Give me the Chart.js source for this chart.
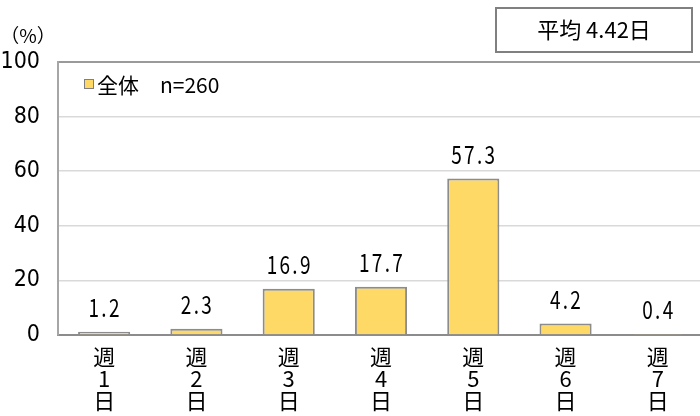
<!DOCTYPE html>
<html>
<head>
<meta charset="utf-8">
<script src="https://cdn.jsdelivr.net/npm/chart.js@4/dist/chart.umd.min.js"></script>
<style>
html,body{margin:0;padding:0;background:#fff;overflow:hidden;}
#wrap{width:710px;height:416px;position:relative;}
</style>
</head>
<body>
<div id="wrap"><canvas id="c" width="710" height="416"></canvas></div>
<script>
const categories = [["週","1","日"],["週","2","日"],["週","3","日"],["週","4","日"],["週","5","日"],["週","6","日"],["週","7","日"]];
const values = [1.2, 2.3, 16.9, 17.7, 57.3, 4.2, 0.4];
const yTicks = [0, 20, 40, 60, 80, 100];
const seriesLabel = "全体\u3000n=260";
const unitLabel = "（%）";
const averageLabel = "平均 4.42日";

function hasFont(name) {
  const cv = document.createElement('canvas').getContext('2d');
  const s = 'mmmmmwwwww0123456789';
  cv.font = '40px monospace'; const a = cv.measureText(s).width;
  cv.font = '40px "' + name + '", monospace'; const b = cv.measureText(s).width;
  cv.font = '40px serif'; const c = cv.measureText(s).width;
  cv.font = '40px "' + name + '", serif'; const d = cv.measureText(s).width;
  return a !== b || c !== d;
}
let narrow = null;
for (const f of ['Liberation Sans Narrow', 'DejaVu Sans Condensed', 'Roboto Condensed', 'Open Sans Condensed']) {
  if (hasFont(f)) { narrow = f; break; }
}
const NUM_FONT = (narrow ? '"' + narrow + '", ' : '') + '"Noto Sans CJK JP", sans-serif';
const JP_FONT = '"Noto Sans CJK JP", sans-serif';
const BAR_FILL = '#FFD966';
const BAR_BORDER = '#8c8c8c';

const overlay = {
  id: 'overlay',
  afterDatasetsDraw(chart) {
    const ctx = chart.ctx;
    const meta = chart.getDatasetMeta(0);
    ctx.save();
    // value labels (condensed rendering)
    ctx.fillStyle = '#000';
    ctx.font = '25px ' + JP_FONT;
    ctx.textAlign = 'center';
    ctx.textBaseline = 'middle';
    try { ctx.letterSpacing = '3px'; } catch(e) {}
    meta.data.forEach((bar, i) => {
      ctx.save();
      ctx.translate(bar.x + 1, bar.y - 24);
      ctx.scale(0.76, 1);
      ctx.fillText(values[i].toFixed(1), 0, 0);
      ctx.restore();
    });
    try { ctx.letterSpacing = '0px'; } catch(e) {}
    // legend
    const ds = chart.data.datasets[0];
    ctx.fillStyle = ds.backgroundColor;
    ctx.strokeStyle = '#7f7f7f';
    ctx.lineWidth = 1;
    ctx.fillRect(84.5, 79.5, 9, 9);
    ctx.strokeRect(84.5, 79.5, 9, 9);
    ctx.fillStyle = '#000';
    ctx.textAlign = 'left';
    ctx.font = '21px ' + JP_FONT;
    ctx.fillText(ds.label, 97, 85);
    // unit
    ctx.font = '19px ' + JP_FONT;
    ctx.textAlign = 'center';
    ctx.fillText(unitLabel, 28, 36);
    // average box
    ctx.strokeStyle = '#808080';
    ctx.lineWidth = 2;
    ctx.strokeRect(496, 8, 196, 44);
    ctx.font = '22px ' + JP_FONT;
    ctx.fillText(averageLabel, 594, 30);
    ctx.restore();
  }
};

new Chart(document.getElementById('c'), {
  type: 'bar',
  data: {
    labels: categories,
    datasets: [{
      label: seriesLabel,
      data: values,
      backgroundColor: BAR_FILL,
      borderColor: BAR_BORDER,
      borderWidth: 2,
      barPercentage: 0.565,
      categoryPercentage: 1.0
    }]
  },
  options: {
    responsive: false,
    animation: false,
    devicePixelRatio: 1,
    layout: { padding: { top: 62, right: 6, left: 0, bottom: 0 } },
    plugins: { legend: { display: false }, tooltip: { enabled: false } },
    scales: {
      x: {
        grid: { display: false, drawTicks: false },
        border: { color: '#8c8c8c', width: 2 },
        ticks: {
          color: '#000',
          font: { family: JP_FONT, size: 22, lineHeight: 1.0 },
          padding: 11,
          maxRotation: 0,
          autoSkip: false
        },
        afterFit(scale) { scale.height = 81; }
      },
      y: {
        min: 0, max: 100,
        afterBuildTicks(scale) { scale.ticks = yTicks.map(v => ({ value: v })); },
        grid: {
          drawTicks: false,
          color: (c) => c.tick && c.tick.value === 100 ? '#9a9a9a' : '#d9d9d9',
          lineWidth: (c) => c.tick && c.tick.value === 100 ? 2 : 1.5
        },
        border: { color: '#a6a6a6', width: 2 },
        ticks: {
          color: '#000',
          font: { family: NUM_FONT, size: narrow ? 23 : 22 },
          padding: 18
        },
        afterFit(scale) { scale.width = 58; }
      }
    }
  },
  plugins: [overlay]
});
</script>
</body>
</html>
